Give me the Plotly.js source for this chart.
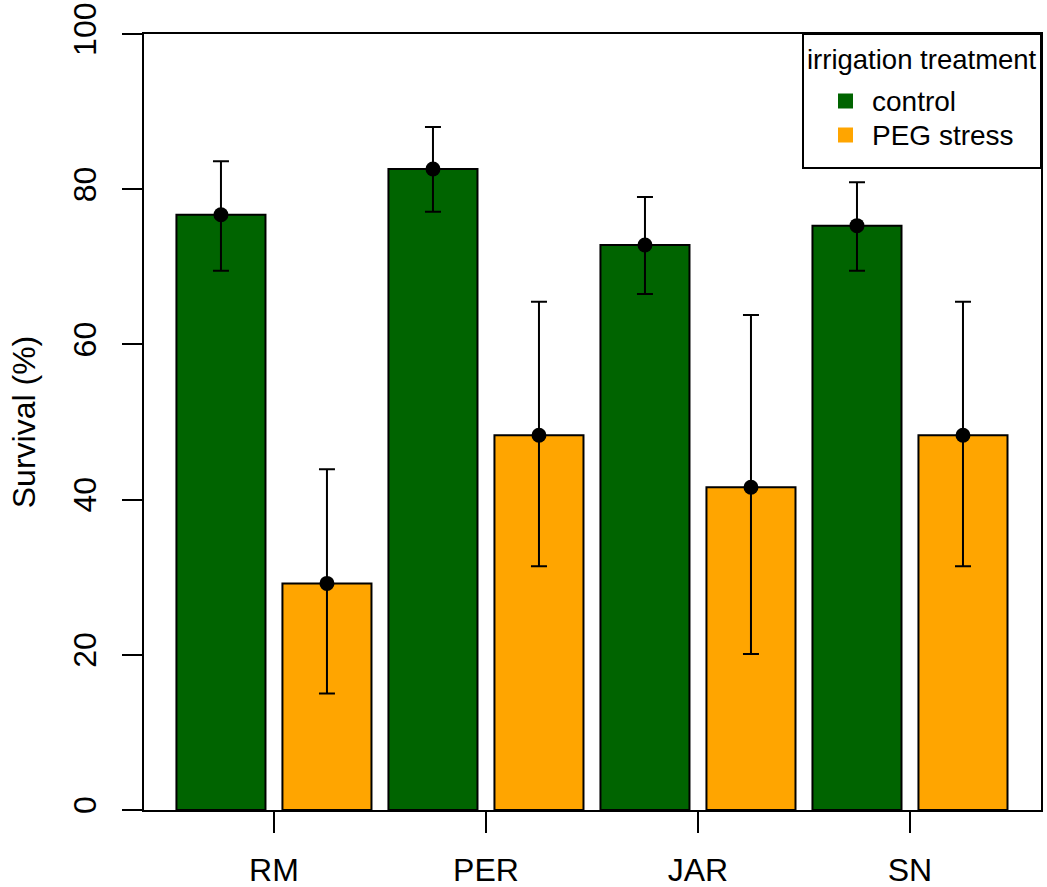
<!DOCTYPE html>
<html>
<head>
<meta charset="utf-8">
<script src="https://cdn.plot.ly/plotly-3.0.1.min.js"></script>
<style>html,body{margin:0;padding:0;background:#fff;}#chart{width:1047px;height:887px;}</style>
</head>
<body>
<div id="chart"></div>
<script>
var categories = ["RM", "PER", "JAR", "SN"];
var seriesNames = ["control", "PEG stress"];
var controlMean = [76.7, 82.6, 72.8, 75.3];
var controlLow  = [69.5, 77.1, 66.5, 69.5];
var controlHigh = [83.6, 88.0, 79.0, 80.9];
var pegMean = [29.2, 48.3, 41.6, 48.3];
var pegLow  = [15.0, 31.4, 20.1, 31.4];
var pegHigh = [43.9, 65.5, 63.8, 65.5];
var yTicks = [0, 20, 40, 60, 80, 100];
var legendTitle = "irrigation treatment";

var FONT = "Liberation Sans, Arial, sans-serif";
var colors = ["#006400", "#FFA500"];
var offsets = [-0.25, 0.25];
var means = [controlMean, pegMean];
var lows = [controlLow, pegLow];
var highs = [controlHigh, pegHigh];

var traces = [];
for (var s = 0; s < 2; s++) {
  traces.push({
    type: "bar",
    name: seriesNames[s],
    x: categories.map(function (c, i) { return i + offsets[s]; }),
    y: means[s],
    width: 0.42,
    marker: { color: colors[s], line: { color: "#000", width: 2 } },
    showlegend: false,
    hoverinfo: "skip"
  });
}
for (var s2 = 0; s2 < 2; s2++) {
  var m = means[s2];
  traces.push({
    type: "scatter",
    mode: "markers",
    x: categories.map(function (c, i) { return i + offsets[s2]; }),
    y: m,
    marker: { color: "#000", size: 15 },
    error_y: {
      type: "data",
      symmetric: false,
      array: highs[s2].map(function (v, i) { return v - m[i]; }),
      arrayminus: m.map(function (v, i) { return v - lows[s2][i]; }),
      color: "#000",
      thickness: 2,
      width: 8
    },
    showlegend: false,
    hoverinfo: "skip"
  });
}

// Manual legend (R-style): box, title, and square keys, in plot-domain fractions
var plotL = 144, plotR = 1041, plotT = 34, plotB = 810;
function px(x) { return (x - plotL) / (plotR - plotL); }
function py(y) { return (plotB - y) / (plotB - plotT); }
var shapes = [{
  type: "rect", xref: "paper", yref: "paper",
  x0: px(803), x1: px(1041), y0: py(168), y1: py(34),
  fillcolor: "#fff", line: { color: "#000", width: 2 }, layer: "above"
}];
var annotations = [{
  xref: "paper", yref: "paper", x: px(922), y: py(59),
  xanchor: "center", yanchor: "middle", showarrow: false,
  text: legendTitle, font: { family: FONT, size: 27.5, color: "#000" }
}];
var rowY = [101, 135];
for (var k = 0; k < seriesNames.length; k++) {
  shapes.push({
    type: "rect", xref: "paper", yref: "paper",
    x0: px(838), x1: px(853), y0: py(rowY[k] + 7.5), y1: py(rowY[k] - 7.5),
    fillcolor: colors[k], line: { width: 0 }, layer: "above"
  });
  annotations.push({
    xref: "paper", yref: "paper", x: px(870), y: py(rowY[k]),
    xanchor: "left", yanchor: "middle", showarrow: false,
    text: seriesNames[k], font: { family: FONT, size: 28, color: "#000" }
  });
}

var layout = {
  width: 1047,
  height: 887,
  margin: { l: 144, r: 6, t: 34, b: 77, pad: 0 },
  paper_bgcolor: "#fff",
  plot_bgcolor: "#fff",
  font: { family: FONT, color: "#000", size: 32 },
  showlegend: false,
  shapes: shapes,
  annotations: annotations,
  xaxis: {
    range: [-0.613, 3.618],
    tickmode: "array",
    tickvals: categories.map(function (c, i) { return i; }),
    ticktext: categories,
    ticks: "outside",
    ticklen: 21,
    tickwidth: 2,
    tickcolor: "#000",
    ticklabelstandoff: 10,
    showline: true,
    linecolor: "#000",
    linewidth: 2,
    mirror: true,
    showgrid: false,
    zeroline: false,
    tickfont: { family: FONT, size: 32, color: "#000" },
    fixedrange: true
  },
  yaxis: {
    range: [0, 100],
    tickmode: "array",
    tickvals: yTicks,
    ticktext: yTicks.map(String),
    tickangle: -90,
    ticks: "outside",
    ticklen: 20,
    tickwidth: 2,
    tickcolor: "#000",
    ticklabelstandoff: 13,
    showline: true,
    linecolor: "#000",
    linewidth: 2,
    mirror: true,
    showgrid: false,
    zeroline: false,
    tickfont: { family: FONT, size: 32, color: "#000" },
    title: { text: "Survival (%)", font: { family: FONT, size: 32, color: "#000" }, standoff: 22 },
    fixedrange: true
  }
};

Plotly.newPlot("chart", traces, layout, { displayModeBar: false, staticPlot: true });
</script>
</body>
</html>
